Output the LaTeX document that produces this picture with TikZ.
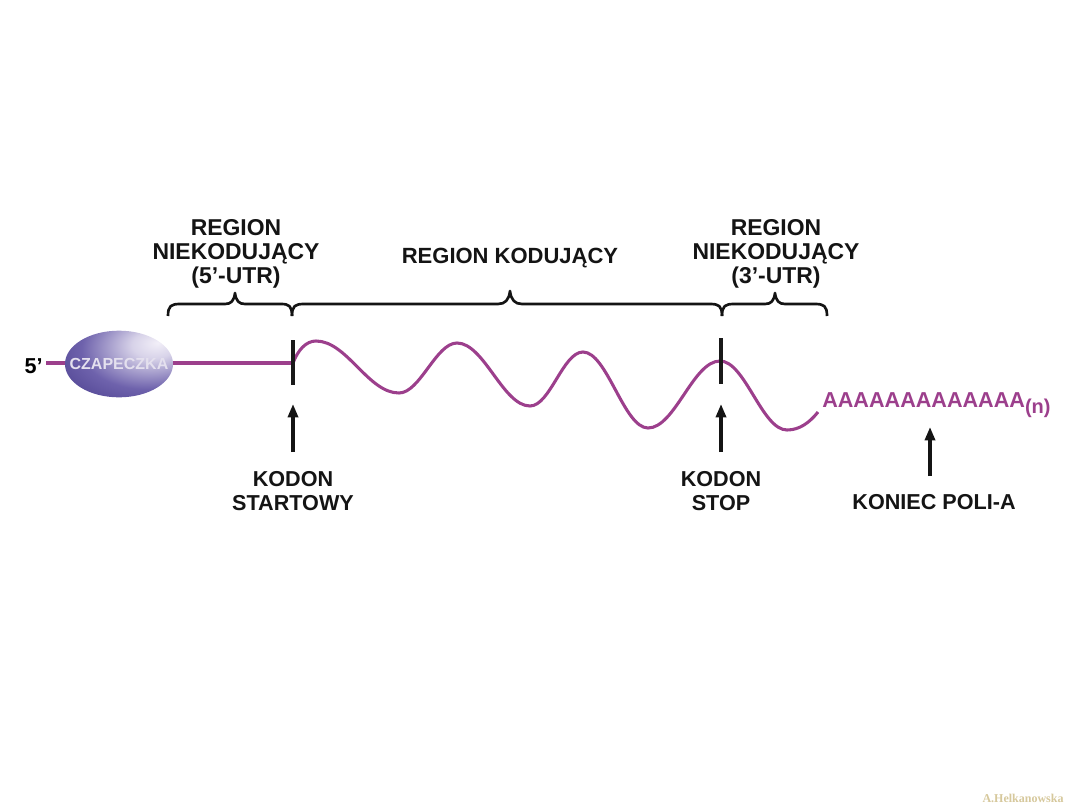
\documentclass[tikz,border=0pt]{standalone}
\usepackage{fontspec}
\setmainfont{Liberation Sans}
\newfontfamily\wmfont{Liberation Serif}
\usetikzlibrary{arrows.meta,shapes.geometric}
\definecolor{rna}{HTML}{9C3F8C}
\definecolor{capdark}{HTML}{34287A}
\definecolor{capmid}{HTML}{6E62AC}
\definecolor{caplight}{HTML}{F2EFF8}
\definecolor{captext}{HTML}{E4E0EE}
\definecolor{wm}{HTML}{D6C89C}
\pgfdeclareradialshading{capshade}{\pgfpoint{18bp}{16bp}}{%
  color(0bp)=(caplight); color(10bp)=(caplight!80!capmid); color(30bp)=(capmid); color(55bp)=(capdark!85!capmid); color(75bp)=(capdark); color(100bp)=(capdark)}
\tikzset{
  lbl/.style={font=\bfseries\fontsize{16.2}{18}\selectfont, align=center, text=black!92, inner sep=0pt},
  toplbl/.style={lbl, font=\bfseries\fontsize{17.2}{18}\selectfont},
  rnaline/.style={draw=rna, line width=2.3pt},
  tick/.style={draw=black!90, line width=2.4pt},
  brace/.style={draw=black!92, line width=2pt, line join=round},
  uparrow/.style={draw=black!92, line width=2.4pt, -{Triangle[length=10pt,width=7.5pt]}},
}
\begin{document}
\begin{tikzpicture}[x=0.75pt,y=-0.75pt]
\useasboundingbox (0,0) rectangle (1080,810);
% labels above
\node[toplbl] (utr5) at (236,254) {REGION\\NIEKODUJĄCY\\(5’-UTR)};
\node[lbl, font=\bfseries\fontsize{16.5}{18}\selectfont] (cod) at (510,258) {REGION KODUJĄCY};
\node[toplbl] (utr3) at (776,254) {REGION\\NIEKODUJĄCY\\(3’-UTR)};
% braces
\draw[brace] (168,316) .. controls (168,306) and (171,304) .. (180,304) -- (225,304)
  .. controls (231,304) and (234,301) .. (235,293) .. controls (236,301) and (239,304) .. (245,304)
  -- (281,304) .. controls (289,304) and (292,306) .. (292,316);
\draw[brace] (292,316) .. controls (292,306) and (295,304) .. (304,304) -- (498,304)
  .. controls (505,304) and (509,300) .. (510,291) .. controls (511,300) and (515,304) .. (522,304)
  -- (710,304) .. controls (719,304) and (722,306) .. (722,316);
\draw[brace] (722,316) .. controls (722,306) and (725,304) .. (734,304) -- (765,304)
  .. controls (771,304) and (774,301) .. (775,293) .. controls (776,301) and (779,304) .. (785,304)
  -- (815,304) .. controls (824,304) and (827,306) .. (827,316);
% 5' end and leader
\node[font=\bfseries\fontsize{16.2}{18}\selectfont, inner sep=0pt, anchor=east] (p5) at (43,366) {5’};
\coordinate (st) at (293,363);
\coordinate (sp) at (721,361);
\draw[rnaline] ([xshift=2.5pt]p5.east |- st) -- (st);
\node[ellipse, minimum width=81pt, minimum height=50pt, shading=capshade, inner sep=0pt] (cap) at (119,364) {};
\node[font=\bfseries\fontsize{12}{14}\selectfont, text=captext, inner sep=0pt] (captxt) at (cap.center) {CZAPECZKA};
% coding wave
\draw[rnaline] (st) .. controls (298,350) and (306,341) .. (316,341)
  .. controls (347,341) and (368,393) .. (399,393)
  .. controls (420,393) and (436,343) .. (457,343)
  .. controls (484,343) and (503,406) .. (530,406)
  .. controls (550,406) and (563,352) .. (583,352)
  .. controls (607,352) and (624,428) .. (648,428)
  .. controls (675,428) and (693,361) .. (720,361)
  .. controls (745,361) and (762,430) .. (787,430)
  .. controls (800,430) and (810,422) .. (818,412) coordinate (wend);
% codon ticks
\draw[tick] (293,340) -- (293,385);
\draw[tick] (721,338) -- (721,384);
% poly-A tail
\node[anchor=west, inner sep=0pt, text=rna, font=\bfseries\fontsize{16.2}{18}\selectfont] (polya) at (822,405)
  {AAAAAAAAAAAAA\raisebox{-5pt}{\fontsize{15}{16}\selectfont(n)}};
% labels below
\node[lbl] (start) at (293,491) {KODON\\STARTOWY};
\node[lbl] (stop) at (721,491) {KODON\\STOP};
\node[lbl] (kon) at (934,502) {KONIEC POLI-A};
\coordinate (sttip) at (293,404);
\coordinate (sptip) at (721,404);
\coordinate (patip) at (930,427);
\draw[uparrow] (293,452) -- (sttip);
\draw[uparrow] (721,452) -- (sptip);
\draw[uparrow] (930,476) -- (patip);
% watermark
\node[font=\wmfont\bfseries\fontsize{9}{10}\selectfont, text=wm, inner sep=0pt] (wmk) at (1023,798) {A.Helkanowska};
\end{tikzpicture}
\end{document}
